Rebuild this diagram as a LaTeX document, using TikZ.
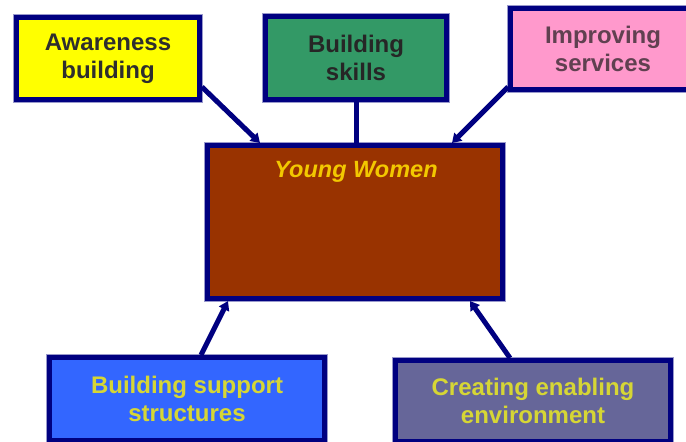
\documentclass[tikz,border=0pt]{standalone}
\usepackage{fontspec}
\setmainfont{Liberation Sans}
\usetikzlibrary{arrows.meta}
\definecolor{navy}{HTML}{000080}
\definecolor{cyellow}{HTML}{FFFF00}
\definecolor{cgreen}{HTML}{339966}
\definecolor{cpink}{HTML}{FF99CC}
\definecolor{cbrown}{HTML}{993300}
\definecolor{cblue}{HTML}{3366FF}
\definecolor{cslate}{HTML}{666699}
\definecolor{tyellow}{HTML}{D6D635}
\definecolor{tgold}{HTML}{F2C800}
\tikzset{
  box/.style={draw=navy, line width=5pt, rectangle, align=center,
    preaction={draw=navy!40, line width=7.5pt},
    font=\fontsize{24}{28}\selectfont\bfseries},
  conn/.style={draw=navy, line width=5pt},
  arr/.style={conn, -{Triangle[length=9pt,width=11pt]}},
}
\begin{document}
\begin{tikzpicture}[x=1pt,y=-1pt]
\useasboundingbox[fill=white] (0,0) rectangle (686,442);
\node[box, fill=cyellow, text=black!82, minimum width=183pt, minimum height=82pt] (aw) at (108,58.5) {Awareness\\building};
\node[box, fill=cgreen, text=black!85, minimum width=181pt, minimum height=83pt] (sk) at (356,58) {Building\\skills};
\node[box, fill=cpink, text={rgb,255:red,96;green,64;blue,80}, minimum width=185pt, minimum height=81pt] (im) at (603,49) {Improving\\services};
\node[box, fill=cbrown, minimum width=295pt, minimum height=153pt] (yw) at (355,222) {};
\node[font=\fontsize{23.5}{28}\selectfont\bfseries\itshape, text=tgold] (ywt) at (356,172) {Young Women};
\node[box, fill=cblue, text=tyellow, minimum width=275pt, minimum height=83pt] (sp) at (187,399) {Building support\\structures};
\node[box, fill=cslate, text=tyellow, minimum width=275pt, minimum height=81pt] (cr) at (533,401) {Creating enabling\\environment};
\draw[arr] ([yshift=15pt]aw.south east) -- ([xshift=55pt]yw.north west);
\draw[conn] (sk.south) -- (sk.south |- yw.north);
\draw[arr] ([yshift=5pt]im.south west) -- ([xshift=-53pt]yw.north east);
\draw[arr] ([xshift=14pt]sp.north) -- ([xshift=23pt]yw.south west);
\draw[arr] ([xshift=-23pt]cr.north) -- ([xshift=-35pt]yw.south east);
\end{tikzpicture}
\end{document}
